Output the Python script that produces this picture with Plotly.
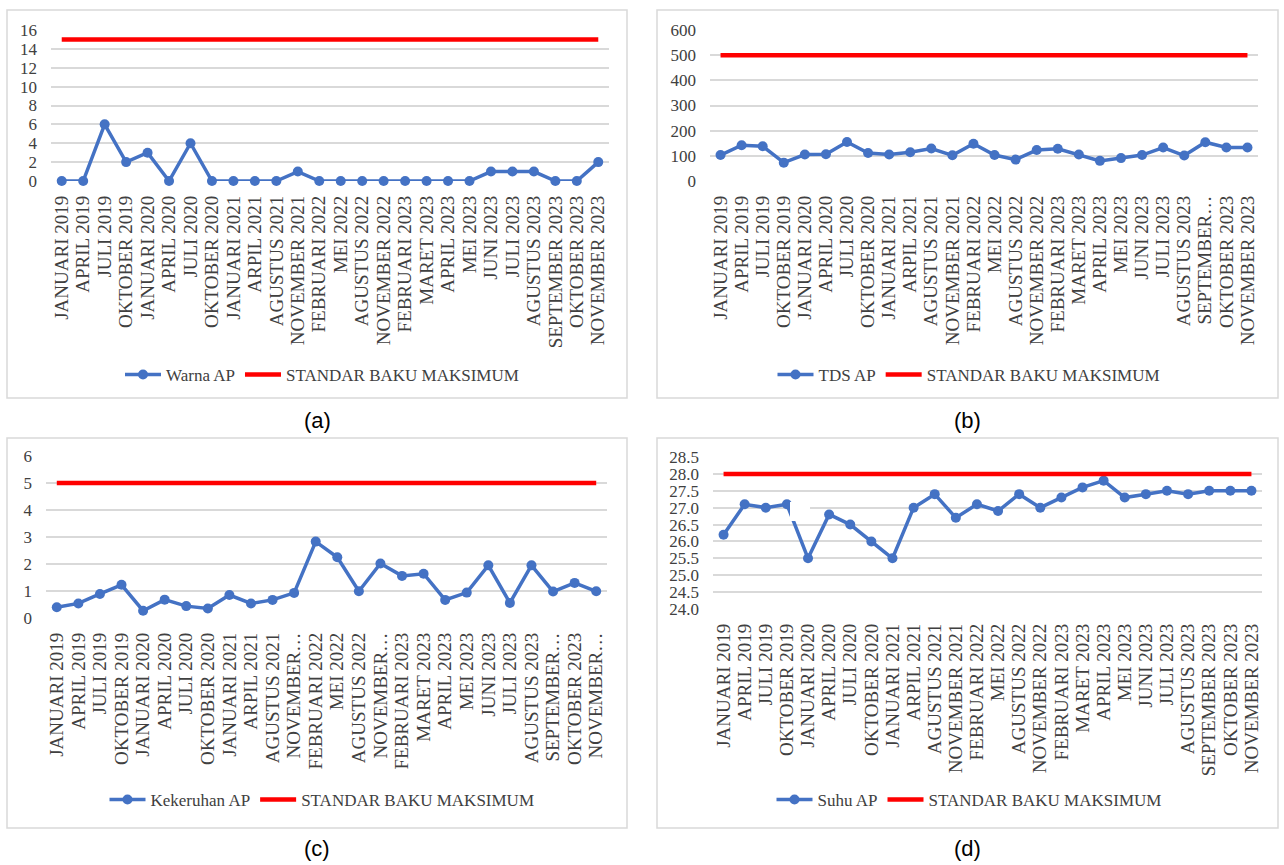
import plotly.graph_objects as go

W, H = 1284, 865

# Sampling months (shared category axis)
months = [
    "JANUARI 2019", "APRIL 2019", "JULI 2019", "OKTOBER 2019",
    "JANUARI 2020", "APRIL 2020", "JULI 2020", "OKTOBER 2020",
    "JANUARI 2021", "ARPIL 2021", "AGUSTUS 2021", "NOVEMBER 2021",
    "FEBRUARI 2022", "MEI 2022", "AGUSTUS 2022", "NOVEMBER 2022",
    "FEBRUARI 2023", "MARET 2023", "APRIL 2023", "MEI 2023",
    "JUNI 2023", "JULI 2023", "AGUSTUS 2023", "SEPTEMBER 2023",
    "OKTOBER 2023", "NOVEMBER 2023",
]

# Tick texts as shown on each panel (long names shortened where the axis is crowded)
ticks_warna = list(months)
ticks_tds = months[:23] + ["SEPTEMBER…"] + months[24:]
ticks_kekeruhan = (months[:11] + ["NOVEMBER…"] + months[12:15] + ["NOVEMBER…"]
                   + months[16:23] + ["SEPTEMBER…", "OKTOBER 2023", "NOVEMBER…"])
ticks_suhu = list(months)

# Measured values (AP)
warna = [0, 0, 6, 2, 3, 0, 4, 0, 0, 0, 0, 1, 0, 0, 0, 0, 0, 0, 0, 0, 1, 1, 1, 0, 0, 2]
tds = [103, 142, 138, 73, 105, 106, 155, 111, 105, 114, 129, 102, 148, 103, 85, 123,
       128, 105, 80, 91, 103, 133, 101, 154, 133, 133]
kekeruhan = [0.40, 0.54, 0.89, 1.23, 0.27, 0.68, 0.44, 0.35, 0.85, 0.54, 0.67, 0.93,
             2.83, 2.25, 0.99, 2.02, 1.56, 1.64, 0.67, 0.94, 1.95, 0.56, 1.95, 0.98,
             1.30, 0.99]
suhu = [26.2, 27.1, 27.0, 27.1, 25.5, 26.8, 26.5, 26.0, 25.5, 27.0, 27.4, 26.7, 27.1,
        26.9, 27.4, 27.0, 27.3, 27.6, 27.8, 27.3, 27.4, 27.5, 27.4, 27.5, 27.5, 27.5]

# Maximum allowed values (STANDAR BAKU MAKSIMUM)
std_warna = 15
std_tds = 500
std_kekeruhan = 5
std_suhu = 28

BLUE = "#4472C4"
RED = "#FF0000"
GRID = "#D9D9D9"
TXT = "#404040"
SERIF = "Liberation Serif, Times New Roman, serif"


def fx(px):
    return px / W


def fy(py):
    return 1 - py / H


panels = [
    dict(name="Warna AP", y=warna, std=std_warna, ticks=ticks_warna, tag="(a)",
         plot=(51, 609, 30, 181), box=(7, 627, 10, 398), rng=[0, 16], dtick=2, fmt="d",
         legend_xy=(322, 375), label_xy=(317, 420)),
    dict(name="TDS AP", y=tds, std=std_tds, ticks=ticks_tds, tag="(b)",
         plot=(710, 1258, 30, 181), box=(657, 1278, 10, 398), rng=[0, 600], dtick=100, fmt="d",
         legend_xy=(969, 375), label_xy=(967, 420)),
    dict(name="Kekeruhan AP", y=kekeruhan, std=std_kekeruhan, ticks=ticks_kekeruhan, tag="(c)",
         plot=(46, 607, 456, 618), box=(7, 627, 438, 828), rng=[0, 6], dtick=1, fmt="d",
         legend_xy=(322, 800), label_xy=(317, 848)),
    dict(name="Suhu AP", y=suhu, std=std_suhu, ticks=ticks_suhu, tag="(d)",
         plot=(713, 1262, 457, 609), box=(657, 1278, 438, 828), rng=[24, 28.5], dtick=0.5, fmt=".1f",
         legend_xy=(969, 800), label_xy=(967, 848)),
]

fig = go.Figure()
layout = dict(
    width=W, height=H, margin=dict(l=0, r=0, t=0, b=0, autoexpand=False),
    paper_bgcolor="white", plot_bgcolor="white",
    showlegend=True, shapes=[], annotations=[],
)

for i, p in enumerate(panels, start=1):
    sfx = "" if i == 1 else str(i)
    xa, ya = "x" + sfx, "y" + sfx
    leg = "legend" + sfx
    x0, x1, y0, y1 = p["plot"]

    fig.add_trace(go.Scatter(
        x=months, y=p["y"], name=p["name"], mode="lines+markers",
        line=dict(color=BLUE, width=3.5), marker=dict(color=BLUE, size=10),
        cliponaxis=False, xaxis=xa, yaxis=ya, legend=leg,
    ))
    fig.add_trace(go.Scatter(
        x=months, y=[p["std"]] * len(months), name="STANDAR BAKU MAKSIMUM", mode="lines",
        line=dict(color=RED, width=4.5),
        cliponaxis=False, xaxis=xa, yaxis=ya, legend=leg,
    ))

    layout["xaxis" + sfx] = dict(
        domain=[fx(x0), fx(x1)], anchor=ya, type="category",
        range=[-0.5, len(months) - 0.5],
        tickmode="array", tickvals=months, ticktext=p["ticks"],
        tickangle=-90, ticklabelstandoff=10, automargin=False,
        tickfont=dict(family=SERIF, size=19, color=TXT),
        showgrid=False, showline=False, zeroline=False, ticks="",
    )
    layout["yaxis" + sfx] = dict(
        domain=[fy(y1), fy(y0)], anchor=xa, range=p["rng"], dtick=p["dtick"],
        tickformat=p["fmt"], ticklabelstandoff=13, automargin=False,
        tickfont=dict(family=SERIF, size=17, color=TXT),
        showgrid=True, gridcolor=GRID, gridwidth=1.5,
        showline=False, zeroline=False, ticks="",
    )
    lx, ly = p["legend_xy"]
    layout[leg] = dict(
        x=fx(lx), y=fy(ly), xanchor="center", yanchor="middle",
        orientation="h", bgcolor="rgba(0,0,0,0)",
        font=dict(family=SERIF, size=17, color=TXT),
        itemwidth=36, tracegroupgap=0,
    )
    bx0, bx1, by0, by1 = p["box"]
    layout["shapes"].append(dict(
        type="rect", xref="paper", yref="paper",
        x0=fx(bx0), x1=fx(bx1), y0=fy(by1), y1=fy(by0),
        line=dict(color=GRID, width=1.5), layer="below",
    ))
    tx, ty = p["label_xy"]
    layout["annotations"].append(dict(
        text=p["tag"], xref="paper", yref="paper", x=fx(tx), y=fy(ty),
        xanchor="center", yanchor="middle", showarrow=False,
        font=dict(family="Liberation Sans, Arial, sans-serif", size=22, color="black"),
    ))

# blank patch over part of the late-2019 segment of the temperature line
layout["shapes"].append(dict(
    type="rect", xref="paper", yref="paper",
    x0=fx(790), x1=fx(810), y0=fy(521), y1=fy(502),
    fillcolor="white", line=dict(width=0), layer="above",
))

fig.update_layout(**layout)
fig.write_html("out.html")
